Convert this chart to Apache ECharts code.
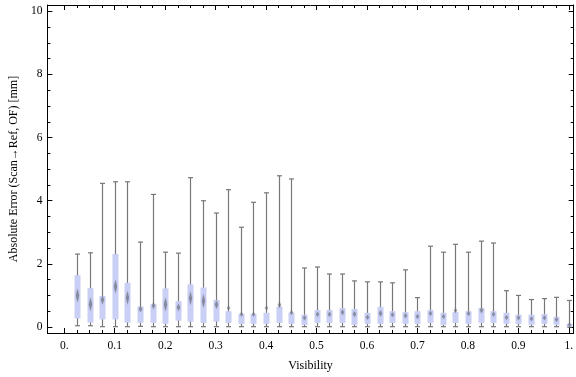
<!DOCTYPE html>
<html>
<head>
<meta charset="utf-8">
<script src="https://cdn.jsdelivr.net/npm/echarts@6/dist/echarts.min.js"></script>
<style>
  html, body { margin: 0; padding: 0; background: #fff; }
  #chart { width: 576px; height: 377px; }
</style>
</head>
<body>
<div id="chart"></div>
<script>
// box-whisker per visibility bin
var visibility = [0.025, 0.05, 0.075, 0.1, 0.125, 0.15, 0.175, 0.2, 0.225, 0.25,
                  0.275, 0.3, 0.325, 0.35, 0.375, 0.4, 0.425, 0.45, 0.475, 0.5,
                  0.525, 0.55, 0.575, 0.6, 0.625, 0.65, 0.675, 0.7, 0.725, 0.75,
                  0.775, 0.8, 0.825, 0.85, 0.875, 0.9, 0.925, 0.95, 0.975, 1.0];
var whiskerHigh = [2.31, 2.35, 4.55, 4.60, 4.60, 2.69, 4.20, 2.37, 2.34, 4.73,
                   4.00, 3.61, 4.35, 3.16, 3.95, 4.25, 4.79, 4.69, 1.87, 1.90,
                   1.68, 1.68, 1.46, 1.43, 1.43, 1.40, 1.81, 0.93, 2.56, 2.37,
                   2.62, 2.37, 2.72, 2.66, 1.15, 1.00, 0.87, 0.90, 0.94, 0.84];
var q3 = [1.64, 1.23, 0.98, 2.31, 1.40, 0.65, 0.72, 1.22, 0.82, 1.35,
          1.25, 0.86, 0.50, 0.41, 0.41, 0.45, 0.64, 0.45, 0.39, 0.54,
          0.54, 0.60, 0.57, 0.45, 0.64, 0.50, 0.47, 0.50, 0.54, 0.45,
          0.47, 0.50, 0.60, 0.50, 0.45, 0.39, 0.39, 0.41, 0.32, 0.10];
var median = [1.00, 0.72, 0.86, 1.28, 0.93, 0.57, 0.68, 0.71, 0.62, 0.91,
              0.82, 0.71, 0.60, 0.40, 0.40, 0.60, 0.70, 0.46, 0.29, 0.40,
              0.40, 0.47, 0.41, 0.31, 0.43, 0.39, 0.36, 0.33, 0.43, 0.33,
              0.52, 0.43, 0.53, 0.40, 0.30, 0.29, 0.26, 0.29, 0.24, 0.07];
var q1 = [0.27, 0.14, 0.24, 0.24, 0.14, 0.13, 0.13, 0.10, 0.20, 0.17,
          0.13, 0.17, 0.13, 0.10, 0.10, 0.10, 0.13, 0.10, 0.07, 0.13,
          0.13, 0.13, 0.07, 0.10, 0.10, 0.13, 0.10, 0.10, 0.13, 0.07,
          0.13, 0.10, 0.13, 0.13, 0.10, 0.10, 0.07, 0.10, 0.07, 0.01];
var whiskerLow = [0.04, 0.04, 0.01, 0.01, 0.01, 0.02, 0.01, 0.01, 0.01, 0.01,
                  0.01, 0.01, 0.01, 0.01, 0.01, 0.01, 0.01, 0.01, 0.01, 0.01,
                  0.01, 0.01, 0.01, 0.01, 0.01, 0.01, 0.01, 0.01, 0.01, 0.01,
                  0.01, 0.01, 0.01, 0.01, 0.01, 0.01, 0.01, 0.01, 0.01, 0.00];

var xTicks = [0, 0.1, 0.2, 0.3, 0.4, 0.5, 0.6, 0.7, 0.8, 0.9, 1];
var xTickLabels = ['0.', '0.1', '0.2', '0.3', '0.4', '0.5', '0.6', '0.7', '0.8', '0.9', '1.'];
var yTicks = [0, 2, 4, 6, 8, 10];
var yTickLabels = ['0', '2', '4', '6', '8', '10'];

// minor ticks between the labelled ones
var xMinor = [];
for (var i = 1; i < 40; i++) { if (i % 4 !== 0) xMinor.push(i * 0.025); }
var yMinor = [];
for (var j = 0; j < 20; j++) { if (j % 4 !== 0) yMinor.push(j * 0.5); }

var boxData = visibility.map(function (v, i) {
    return [v, whiskerLow[i], q1[i], median[i], q3[i], whiskerHigh[i]];
});

var serif = 'Liberation Serif';
var frameColor = '#000';

function majorAxis(extra) {
    var ax = {
        type: 'value',
        axisLine: { show: true, onZero: false, lineStyle: { color: frameColor, width: 1 } },
        splitLine: { show: false },
        axisLabel: { show: false }
    };
    for (var k in extra) ax[k] = extra[k];
    return ax;
}
function minorAxis(extra) {
    var ax = {
        type: 'value',
        axisLine: { show: false, onZero: false },
        splitLine: { show: false },
        axisLabel: { show: false }
    };
    for (var k in extra) ax[k] = extra[k];
    return ax;
}
function ticks(values, len) {
    return { show: true, inside: true, length: len, customValues: values, lineStyle: { color: frameColor } };
}

var xMin = -0.0335, xMax = 1.0097, yMin = -0.19, yMax = 10.2;

var myChart = echarts.init(document.getElementById('chart'));
var option = {
    animation: false,
    grid: { left: 36, right: 1, top: 5, bottom: 41, containLabel: false },
    xAxis: [
        majorAxis({
            position: 'bottom', min: xMin, max: xMax,
            name: 'Visibility', nameLocation: 'middle', nameGap: 27,
            nameTextStyle: { fontFamily: serif, fontSize: 12, color: '#000' },
            axisTick: ticks(xTicks, 5),
            axisLabel: {
                show: true, customValues: xTicks, margin: 7,
                fontFamily: serif, fontSize: 11.5, color: '#000',
                formatter: function (v) { return xTickLabels[xTicks.indexOf(+v.toFixed(1))]; }
            }
        }),
        minorAxis({ position: 'bottom', min: xMin, max: xMax, axisTick: ticks(xMinor, 3) }),
        majorAxis({ position: 'top', min: xMin, max: xMax, axisTick: ticks(xTicks, 5) }),
        minorAxis({ position: 'top', min: xMin, max: xMax, axisTick: ticks(xMinor, 3) })
    ],
    yAxis: [
        majorAxis({
            position: 'left', min: yMin, max: yMax,
            name: 'Absolute Error (Scan\u2192Ref, OF) [mm]', nameLocation: 'middle', nameGap: 25,
            nameTextStyle: { fontFamily: serif, fontSize: 12, color: '#000' },
            axisTick: ticks(yTicks, 5),
            axisLabel: {
                show: true, customValues: yTicks, margin: 5,
                fontFamily: serif, fontSize: 11.5, color: '#000',
                formatter: function (v) { return yTickLabels[yTicks.indexOf(Math.round(v))]; }
            }
        }),
        minorAxis({ position: 'left', min: yMin, max: yMax, axisTick: ticks(yMinor, 3) }),
        majorAxis({ position: 'right', min: yMin, max: yMax, axisTick: ticks(yTicks, 5) }),
        minorAxis({ position: 'right', min: yMin, max: yMax, axisTick: ticks(yMinor, 3) })
    ],
    series: [{
        type: 'custom',
        xAxisIndex: 0,
        yAxisIndex: 0,
        clip: true,
        data: boxData,
        renderItem: function (params, api) {
            var x = api.value(0);
            var pLo = api.coord([x, api.value(1)]);
            var pQ1 = api.coord([x, api.value(2)]);
            var pMed = api.coord([x, api.value(3)]);
            var pQ3 = api.coord([x, api.value(4)]);
            var pHi = api.coord([x, api.value(5)]);
            var cx = Math.round(pLo[0]) + 0.5;
            var bw = 6, cap = 2.5;
            var boxH = pQ1[1] - pQ3[1];
            var mh = Math.max(2.5, Math.min(7, boxH * 0.2));
            var line = { stroke: '#777', lineWidth: 1.2 };
            return {
                type: 'group',
                children: [
                    { type: 'line', shape: { x1: cx, y1: pHi[1], x2: cx, y2: pLo[1] }, style: line },
                    { type: 'line', shape: { x1: cx - cap, y1: pHi[1], x2: cx + cap, y2: pHi[1] }, style: line },
                    { type: 'line', shape: { x1: cx - cap, y1: pLo[1], x2: cx + cap, y2: pLo[1] }, style: line },
                    { type: 'rect', shape: { x: cx - bw / 2, y: pQ3[1], width: bw, height: boxH },
                      style: { fill: '#c9cff5' } },
                    { type: 'polygon',
                      shape: { points: [[cx, pMed[1] - mh], [cx + 1.6, pMed[1]], [cx, pMed[1] + mh], [cx - 1.6, pMed[1]]] },
                      style: { fill: 'rgba(110,110,125,0.65)', shadowBlur: 2, shadowColor: 'rgba(110,110,125,0.5)' } }
                ]
            };
        }
    }]
};
myChart.setOption(option);
window.addEventListener('resize', function () {
    myChart.resize();
});
</script>
</body>
</html>
